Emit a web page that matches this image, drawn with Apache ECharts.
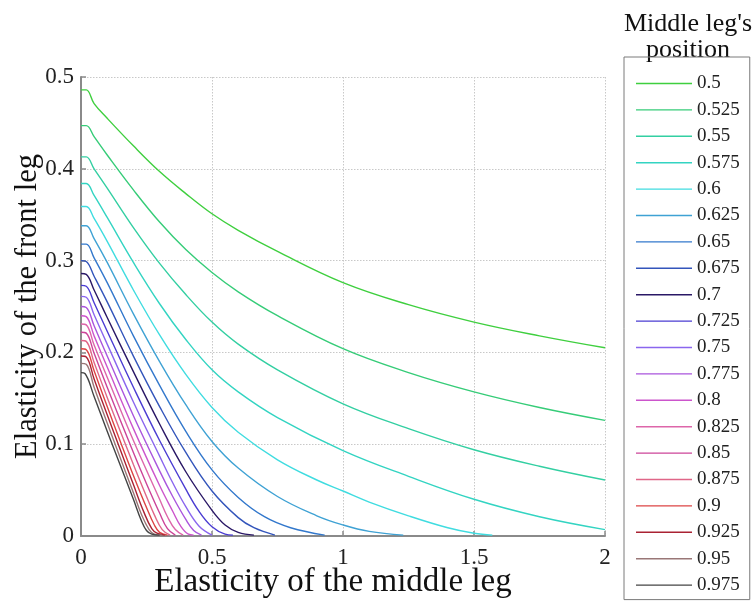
<!DOCTYPE html>
<html>
<head>
<meta charset="utf-8">
<script src="https://cdn.jsdelivr.net/npm/echarts@6/dist/echarts.min.js"></script>
<style>
html,body{margin:0;padding:0;background:#fff;}
#chart{width:755px;height:602px;}
</style>
</head>
<body>
<div id="chart"></div>
<script>
// Legend categories (middle leg position)
const positions = ['0.5','0.525','0.55','0.575','0.6','0.625','0.65','0.675','0.7','0.725','0.75','0.775','0.8','0.825','0.85','0.875','0.9','0.925','0.95','0.975'];

// Curves: [elasticity of middle leg, elasticity of front leg]
const c0500 = [[0,0.486],[0.02,0.486],[0.05,0.471],[0.1,0.455],[0.2,0.425],[0.3,0.397],[0.4,0.373],[0.5,0.351],[0.6,0.333],[0.75,0.310],[1,0.276],[1.25,0.252],[1.5,0.233],[1.75,0.218],[2,0.205]];
const c0525 = [[0,0.447],[0.02,0.447],[0.05,0.435],[0.1,0.415],[0.2,0.377],[0.3,0.342],[0.4,0.312],[0.5,0.287],[0.6,0.266],[0.75,0.240],[1,0.204],[1.25,0.178],[1.5,0.157],[1.75,0.140],[2,0.126]];
const c0550 = [[0,0.413],[0.02,0.413],[0.05,0.400],[0.1,0.379],[0.2,0.336],[0.3,0.297],[0.4,0.263],[0.5,0.233],[0.6,0.209],[0.75,0.181],[1,0.144],[1.25,0.117],[1.5,0.094],[1.75,0.076],[2,0.061]];
const c0575 = [[0,0.384],[0.02,0.384],[0.05,0.371],[0.1,0.347],[0.2,0.298],[0.3,0.253],[0.4,0.214],[0.5,0.181],[0.6,0.157],[0.75,0.129],[1,0.093],[1.25,0.065],[1.5,0.040],[1.75,0.021],[2,0.007]];
const c0600 = [[0,0.359],[0.02,0.359],[0.05,0.346],[0.1,0.321],[0.2,0.268],[0.3,0.219],[0.4,0.176],[0.5,0.140],[0.6,0.113],[0.75,0.083],[0.9,0.061],[1,0.049],[1.1,0.037],[1.25,0.022],[1.4,0.009],[1.5,0.003],[1.57,0.001]];
const c0625 = [[0,0.338],[0.02,0.338],[0.05,0.324],[0.1,0.298],[0.2,0.242],[0.3,0.190],[0.4,0.143],[0.5,0.103],[0.6,0.074],[0.75,0.043],[0.9,0.022],[1,0.012],[1.1,0.005],[1.23,0.001]];
const c0650 = [[0,0.318],[0.02,0.318],[0.05,0.303],[0.1,0.276],[0.2,0.218],[0.3,0.164],[0.4,0.114],[0.5,0.072],[0.6,0.042],[0.7,0.021],[0.8,0.009],[0.93,0.001]];
const c0675 = [[0,0.300],[0.02,0.299],[0.05,0.283],[0.1,0.255],[0.2,0.196],[0.3,0.141],[0.4,0.091],[0.5,0.049],[0.6,0.020],[0.66,0.009],[0.74,0.001]];
const c0700 = [[0,0.286],[0.02,0.285],[0.05,0.268],[0.1,0.238],[0.2,0.179],[0.3,0.122],[0.4,0.070],[0.5,0.028],[0.55,0.012],[0.6,0.004],[0.66,0.001]];
const c0725 = [[0,0.273],[0.02,0.272],[0.05,0.254],[0.1,0.223],[0.2,0.162],[0.3,0.104],[0.4,0.051],[0.45,0.027],[0.5,0.010],[0.55,0.002],[0.58,0.001]];
const c0750 = [[0,0.261],[0.02,0.260],[0.05,0.241],[0.1,0.209],[0.2,0.146],[0.3,0.087],[0.35,0.058],[0.4,0.032],[0.45,0.011],[0.5,0.001]];
const c0775 = [[0,0.250],[0.02,0.249],[0.05,0.229],[0.1,0.196],[0.2,0.131],[0.3,0.071],[0.35,0.043],[0.4,0.018],[0.43,0.006],[0.46,0.001]];
const c0800 = [[0,0.240],[0.02,0.239],[0.05,0.218],[0.1,0.184],[0.2,0.117],[0.3,0.055],[0.35,0.027],[0.38,0.011],[0.41,0.002],[0.43,0.001]];
const c0825 = [[0,0.231],[0.02,0.230],[0.05,0.208],[0.1,0.173],[0.2,0.104],[0.3,0.040],[0.33,0.021],[0.36,0.007],[0.39,0.001]];
const c0850 = [[0,0.222],[0.02,0.221],[0.05,0.199],[0.1,0.162],[0.2,0.091],[0.25,0.057],[0.3,0.025],[0.33,0.008],[0.36,0.001]];
const c0875 = [[0,0.213],[0.02,0.212],[0.05,0.189],[0.1,0.151],[0.2,0.078],[0.25,0.043],[0.28,0.023],[0.31,0.007],[0.34,0.001]];
const c0900 = [[0,0.204],[0.02,0.203],[0.05,0.180],[0.1,0.141],[0.15,0.103],[0.2,0.066],[0.25,0.031],[0.28,0.012],[0.3,0.004],[0.33,0.001]];
const c0925 = [[0,0.196],[0.02,0.195],[0.05,0.171],[0.1,0.132],[0.15,0.094],[0.2,0.056],[0.24,0.026],[0.27,0.008],[0.29,0.003],[0.32,0.001]];
const c0950 = [[0,0.188],[0.02,0.187],[0.05,0.162],[0.1,0.123],[0.15,0.085],[0.2,0.047],[0.23,0.024],[0.26,0.007],[0.28,0.002],[0.31,0.001]];
const c0975 = [[0,0.178],[0.015,0.177],[0.05,0.152],[0.1,0.114],[0.15,0.077],[0.2,0.040],[0.23,0.017],[0.25,0.006],[0.27,0.002],[0.30,0.001]];

const curves = [c0500,c0525,c0550,c0575,c0600,c0625,c0650,c0675,c0700,c0725,c0750,c0775,c0800,c0825,c0850,c0875,c0900,c0925,c0950,c0975];

// Styles
const lineColors = ['#3fcf3f','#36cc78','#33cfa2','#33d4c2','#40dce0','#3fa2d4','#3378cc','#3355bb','#2a1866','#4a3cd2','#8a66ee','#aa55dd','#cc55cc','#dd66aa','#cc4499','#e06688','#dd4444','#aa2233','#997777','#444444'];
const FONT = '"Liberation Serif", "Times New Roman", serif';

const chart = echarts.init(document.getElementById('chart'), null, {renderer:'canvas'});

const series = curves.map((d, i) => ({
  name: positions[i],
  type: 'line',
  data: d,
  showSymbol: false,
  symbol: 'none',
  smooth: 0.4,
  lineStyle: {width: 1.4, color: lineColors[i]},
  itemStyle: {color: lineColors[i]},
  emphasis: {disabled: true}
}));

chart.setOption({
  animation: false,
  backgroundColor: '#fff',
  color: lineColors,
  grid: {left: 81, right: 150, top: 77, bottom: 66, containLabel: false, outerBoundsMode: 'none'},
  xAxis: {
    type: 'value', min: 0, max: 2, interval: 0.5,
    name: 'Elasticity of the middle leg', nameLocation: 'middle', nameGap: 30, nameMoveOverlap: false,
    nameTextStyle: {fontFamily: FONT, fontSize: 33, color: '#111', padding: [0, 20, 0, 0]},
    axisLine: {show: true, onZero: false, lineStyle: {color: '#8a8a8a', width: 2}},
    axisTick: {show: true, inside: true, length: 5, lineStyle: {color: '#8a8a8a', width: 1.5}},
    axisLabel: {fontFamily: FONT, fontSize: 23, color: '#222', margin: 10},
    splitLine: {show: true, lineStyle: {color: '#c8c8c8', type: [1.5, 1.5], width: 1}}
  },
  yAxis: {
    type: 'value', min: 0, max: 0.5, interval: 0.1,
    name: 'Elasticity of the front leg', nameLocation: 'middle', nameGap: 38, nameMoveOverlap: false,
    nameTextStyle: {fontFamily: FONT, fontSize: 30.5, color: '#111'},
    axisLine: {show: true, onZero: false, lineStyle: {color: '#8a8a8a', width: 2}},
    axisTick: {show: true, inside: true, length: 5, lineStyle: {color: '#8a8a8a', width: 1.5}},
    axisLabel: {fontFamily: FONT, fontSize: 23, color: '#222', margin: 7},
    splitLine: {show: true, lineStyle: {color: '#c8c8c8', type: [1.5, 1.5], width: 1}}
  },
  legend: {
    orient: 'vertical',
    left: 624, top: 57,
    width: 126, height: 545,
    padding: [17, 10, 5, 12],
    icon: 'rect',
    itemWidth: 56, itemHeight: 1.4, itemGap: 7.4,
    borderColor: '#7a7a7a', borderWidth: 1,
    textStyle: {fontFamily: FONT, fontSize: 19, color: '#222'},
    data: positions,
    selectedMode: false
  },
  graphic: [{
    type: 'text', x: 688, y: 11,
    style: {text: "Middle leg's\nposition", textAlign: 'center', textVerticalAlign: 'top', font: '26px ' + FONT, lineHeight: 26, fill: '#111'}
  }],
  series: series
});
</script>
</body>
</html>
